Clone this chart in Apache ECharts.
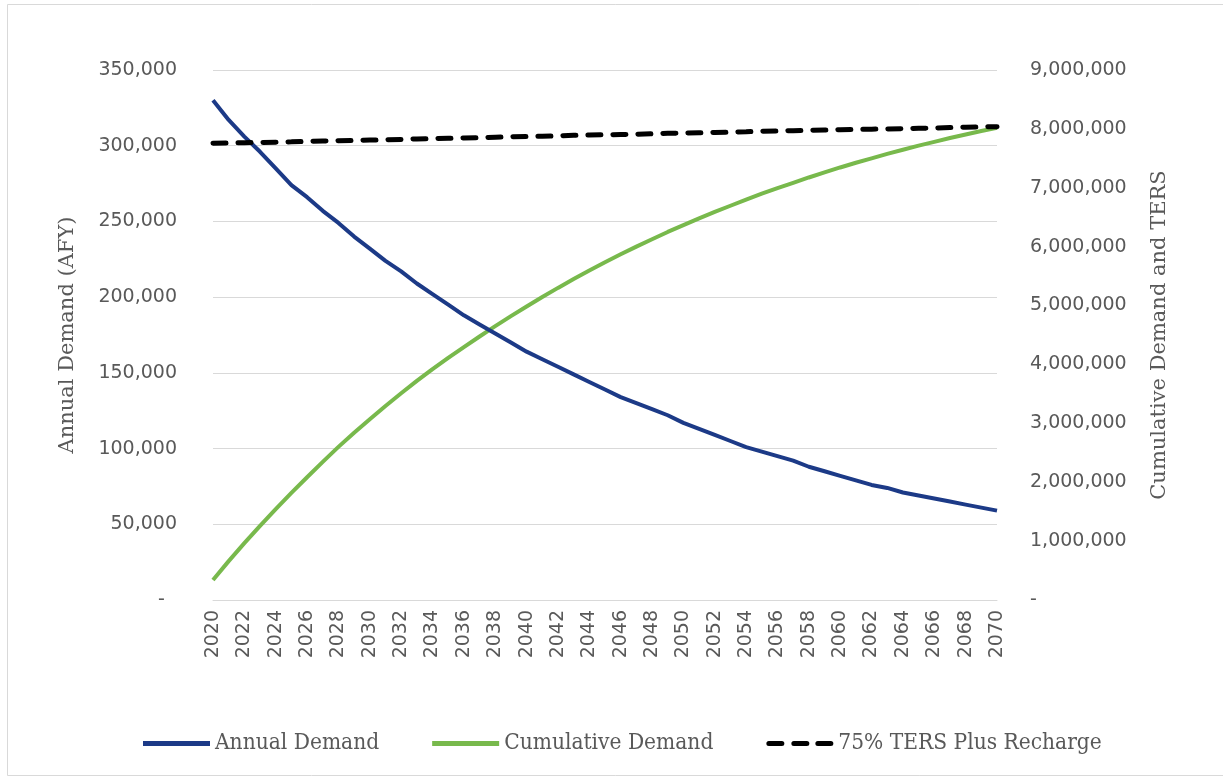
<!DOCTYPE html>
<html>
<head>
<meta charset="utf-8">
<script src="https://cdn.jsdelivr.net/npm/echarts@6/dist/echarts.min.js"></script>
<style>html,body{margin:0;padding:0;background:#fff}#c{width:1223px;height:780px}</style>
</head>
<body>
<div id="c"></div>
<script>
const years = [];
for (let y = 2020; y <= 2070; y++) years.push(String(y));

const annualDemand = [330000,317000,306000,296000,285000,274000,266000,257000,249000,240000,
  232000,224000,217000,209000,202000,195000,188000,182000,176000,170000,
  164000,159000,154000,149000,144000,139000,134000,130000,126000,122000,
  117000,113000,109000,105000,101000,98000,95000,92000,88000,85000,
  82000,79000,76000,74000,71000,69000,67000,65000,63000,61000,59000];

const cumulativeDemand = [340000,660000,965000,1260000,1545000,1820000,2085000,2345000,2600000,2840000,
  3070000,3295000,3510000,3720000,3920000,4110000,4295000,4475000,4650000,4820000,
  4985000,5145000,5300000,5450000,5595000,5735000,5870000,6000000,6125000,6250000,
  6365000,6480000,6590000,6695000,6800000,6900000,6995000,7085000,7175000,7260000,
  7345000,7425000,7500000,7575000,7645000,7715000,7780000,7845000,7905000,7965000,8020000];

const tersPlusRecharge = [7757000,7760000,7765000,7770000,7775000,7780000,7790000,7795000,7800000,7805000,
  7810000,7815000,7822000,7830000,7835000,7840000,7845000,7850000,7860000,7865000,
  7870000,7875000,7882000,7890000,7895000,7900000,7905000,7910000,7918000,7925000,
  7930000,7935000,7940000,7945000,7952000,7960000,7965000,7970000,7975000,7980000,
  7985000,7990000,7995000,8000000,8005000,8010000,8015000,8022000,8028000,8033000,8038000];

const leftTicks = {min: 0, max: 350000, interval: 50000};
const rightTicks = {min: 0, max: 9000000, interval: 1000000};

const gray = '#595959';
const sans = 'DejaVu Sans';
const serif = 'DejaVu Serif';

const chart = echarts.init(document.getElementById('c'));
chart.setOption({
  animation: false,
  backgroundColor: '#fff',
  graphic: [{
    type: 'rect', shape: {x: 7.5, y: 4.5, width: 1220, height: 771},
    style: {fill: 'none', stroke: '#d9d9d9', lineWidth: 1}, silent: true, z: -1
  }],
  grid: {left: 213, right: 226, top: 70, bottom: 180, containLabel: false},
  legend: {
    bottom: 20, left: 138,
    itemWidth: 67, itemHeight: 5, itemGap: 53,
    textStyle: {fontFamily: 'DejaVu Serif Condensed, ' + serif, fontSize: 22.5, color: gray},
    data: [
      {name: 'Annual Demand', icon: 'rect'},
      {name: 'Cumulative Demand', icon: 'rect'},
      {name: '75% TERS Plus Recharge', icon: 'path://M2.5,0h13a2.5,2.5 0 0 1 0,5h-13a2.5,2.5 0 0 1 0,-5z M27.5,0h13a2.5,2.5 0 0 1 0,5h-13a2.5,2.5 0 0 1 0,-5z M51.5,0h13a2.5,2.5 0 0 1 0,5h-13a2.5,2.5 0 0 1 0,-5z'}
    ]
  },
  xAxis: {
    type: 'category', data: years, boundaryGap: false,
    axisLine: {show: true, lineStyle: {color: '#d9d9d9', width: 1}},
    axisTick: {show: false},
    axisLabel: {interval: 1, rotate: 90, color: gray, fontFamily: sans, fontSize: 19, margin: 10}
  },
  yAxis: [{
    type: 'value', min: leftTicks.min, max: leftTicks.max, interval: leftTicks.interval,
    name: 'Annual Demand (AFY)', nameLocation: 'middle', nameGap: 135,
    nameTextStyle: {fontFamily: serif, fontSize: 21, color: gray},
    axisLine: {show: false}, axisTick: {show: false},
    axisLabel: {formatter: v => v === 0 ? '-  ' : v.toLocaleString('en-US'),
      color: gray, fontFamily: sans, fontSize: 19, margin: 36},
    splitLine: {show: true, lineStyle: {color: '#d9d9d9', width: 1}}
  }, {
    type: 'value', min: rightTicks.min, max: rightTicks.max, interval: rightTicks.interval,
    name: 'Cumulative Demand and TERS', nameLocation: 'middle', nameGap: 152,
    nameTextStyle: {fontFamily: serif, fontSize: 21, color: gray},
    axisLine: {show: false}, axisTick: {show: false},
    axisLabel: {formatter: v => v === 0 ? '-' : v.toLocaleString('en-US'),
      color: gray, fontFamily: sans, fontSize: 19, margin: 33},
    splitLine: {show: false}
  }],
  series: [{
    name: 'Annual Demand', type: 'line', yAxisIndex: 0, data: annualDemand,
    symbol: 'none',
    lineStyle: {color: '#1c3a87', width: 4}, itemStyle: {color: '#1c3a87'}, z: 3
  }, {
    name: 'Cumulative Demand', type: 'line', yAxisIndex: 1, data: cumulativeDemand,
    symbol: 'none',
    lineStyle: {color: '#78b94c', width: 4}, itemStyle: {color: '#78b94c'}, z: 2
  }, {
    name: '75% TERS Plus Recharge', type: 'line', yAxisIndex: 1, data: tersPlusRecharge,
    symbol: 'none',
    lineStyle: {color: '#000', width: 5, type: [13, 12], cap: 'round'}, itemStyle: {color: '#000'}, z: 4
  }]
});
</script>
</body>
</html>
